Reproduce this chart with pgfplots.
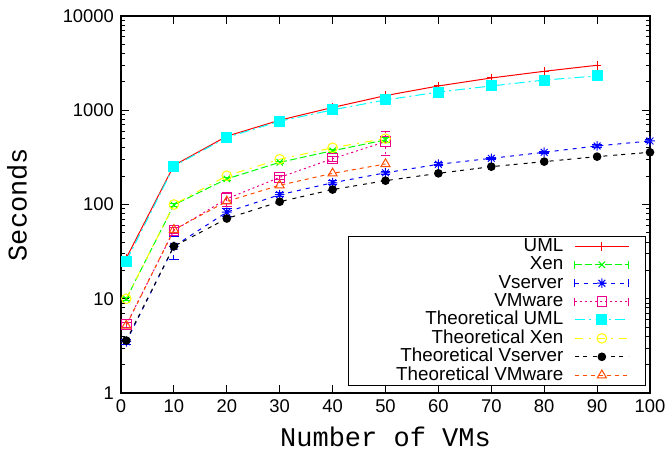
\documentclass[border=0pt]{standalone}
\usepackage{fontspec}
\setmainfont{Liberation Sans}
\newfontfamily\courier{Liberation Mono}
\usepackage{pgfplots}
\pgfplotsset{compat=1.18}

\definecolor{gpgreen}{rgb}{0,1,0}
\definecolor{gpcyan}{rgb}{0,1,1}
\definecolor{gpyellow}{rgb}{1,1,0}
\definecolor{gporange}{rgb}{1,0.3,0}

% gnuplot style 8-arm asterisk
\pgfdeclareplotmark{gpstar}{%
  \pgfpathmoveto{\pgfqpoint{-\pgfplotmarksize}{0pt}}\pgfpathlineto{\pgfqpoint{\pgfplotmarksize}{0pt}}%
  \pgfpathmoveto{\pgfqpoint{0pt}{-\pgfplotmarksize}}\pgfpathlineto{\pgfqpoint{0pt}{\pgfplotmarksize}}%
  \pgfpathmoveto{\pgfqpoint{-.707\pgfplotmarksize}{-.707\pgfplotmarksize}}\pgfpathlineto{\pgfqpoint{.707\pgfplotmarksize}{.707\pgfplotmarksize}}%
  \pgfpathmoveto{\pgfqpoint{-.707\pgfplotmarksize}{.707\pgfplotmarksize}}\pgfpathlineto{\pgfqpoint{.707\pgfplotmarksize}{-.707\pgfplotmarksize}}%
  \pgfusepathqstroke}

\newcommand{\legtxt}[1]{\makebox[106pt][r]{#1}}

\pgfplotsset{
  plainleg/.style={legend image code/.code={%
    \draw[mark repeat=2,mark phase=2] plot coordinates {(0pt,0pt)(13.5pt,0pt)(27pt,0pt)};
    \path (34pt,0pt);}},
  errleg/.style={legend image code/.code={%
    \draw[mark repeat=2,mark phase=2] plot coordinates {(0pt,0pt)(13.5pt,0pt)(27pt,0pt)};
    \draw[solid] (0pt,-2pt)--(0pt,2pt) (27pt,-2pt)--(27pt,2pt);
    \path (34pt,0pt);}},
}

\begin{document}
\begin{tikzpicture}
\useasboundingbox (-60.5pt,-29.5pt) rectangle (275pt,196.5pt);
\begin{axis}[
    at={(0pt,0pt)}, anchor=south west,
    scale only axis,
    width=264.5pt, height=188.5pt,
    ymode=log,
    xmin=0, xmax=100, ymin=1, ymax=10000,
    xtick={0,10,...,100},
    ytick={1,10,100,1000,10000},
    yticklabels={1,10,100,1000,10000},
    tick align=inside,
    major tick length=4pt, minor tick length=2pt,
    axis line style={line width=0.8pt},
    every tick/.style={black, line width=0.5pt},
    tick label style={font=\fontsize{9.2}{9.2}\selectfont},
    /pgf/number format/assume math mode=true,
    xlabel={Number of VMs},
    ylabel={Seconds},
    every axis x label/.style={at={(axis description cs:0.5,0)}, yshift=-22pt, anchor=center, font=\courier\fontsize{13.5}{13.5}\selectfont},
    every axis y label/.style={at={(axis description cs:0,0.5)}, xshift=-52pt, rotate=90, anchor=center, font=\courier\fontsize{13.5}{13.5}\selectfont},
    legend plot pos=right,
    legend cell align=right,
    legend style={at={(0.9924,0.0186)}, anchor=south east, draw=black, line width=0.6pt,
      font=\fontsize{9.4}{9.4}\selectfont, inner xsep=1pt, inner ysep=0.5pt,
      row sep=0pt, column sep=5pt,
      nodes={inner sep=0.5pt, text height=6.6pt, text depth=1.6pt}},
    every axis plot/.append style={line width=0.5pt},
]
% UML
\addplot[red, solid, mark=+, mark size=2.2pt, mark options={solid}, plainleg]
  coordinates {(1,27)(10,260)(20,530)(30,785)(40,1070)(50,1430)(60,1810)(70,2200)(80,2590)(90,3000)};
% Xen
\addplot[gpgreen, dash pattern=on 3.5pt off 1.5pt, mark=x, mark size=2.2pt, mark options={solid}, errleg,
  error bars/.cd, y dir=both, y explicit, error bar style={gpgreen, line width=0.5pt}]
  coordinates {(1,10)+-(0,0.3)(10,99)+-(0,3)(20,187)+-(0,6)(30,280)+-(0,10)(40,372)+-(0,15)(50,484)+-(0,25)};
% Vserver
\addplot[blue, dash pattern=on 2pt off 2.5pt, mark=gpstar, mark size=2.4pt, mark options={solid}, errleg,
  error bars/.cd, y dir=both, y explicit, error bar style={blue, line width=0.5pt}]
  coordinates {(1,3.5)+-(0,0.2)(10,36)+-(0,10)(20,83)+-(0,8)(30,127)+-(0,6)(40,170)+-(0,8)(50,217)+-(0,10)
               (60,267)+-(0,10)(70,309)+-(0,10)(80,358)+-(0,10)(90,418)+-(0,12)(100,472)+-(0,15)};
% VMware
\addplot[magenta, dash pattern=on 1pt off 1.5pt, mark=square, mark size=2.4pt, mark options={solid}, errleg,
  error bars/.cd, y dir=both, y explicit, error bar style={magenta, line width=0.5pt, dash pattern=on 1pt off 1.5pt}]
  coordinates {(1,5.3)+-(0,0.3)(10,53)+-(0,4)(20,115)+-(0,20)(30,194)+-(0,10)(40,306)+-(0,20)(50,464)+-(0,130)};
% Theoretical UML
\addplot[gpcyan, dash pattern=on 5pt off 2pt on 1pt off 2pt, mark=square*, mark size=2.5pt, mark options={solid}, plainleg]
  coordinates {(1,25)(10,255)(20,515)(30,765)(40,1010)(50,1285)(60,1560)(70,1810)(80,2090)(90,2310)};
% Theoretical Xen
\addplot[gpyellow, dash pattern=on 4pt off 3pt on 1pt off 3pt, mark=o, mark size=2.4pt, mark options={solid}, plainleg]
  coordinates {(1,10)(10,100)(20,202)(30,302)(40,400)(50,500)};
% Theoretical Vserver
\addplot[black, dash pattern=on 2pt off 2pt on 2pt off 3pt, mark=*, mark size=1.9pt, mark options={solid}, plainleg]
  coordinates {(1,3.6)(10,36)(20,71)(30,107)(40,144)(50,179)(60,214)(70,252)(80,285)(90,322)(100,358)};
% Theoretical VMware
\addplot[gporange, dash pattern=on 2pt off 2pt, mark=triangle, mark size=2.6pt, mark options={solid}, plainleg]
  coordinates {(1,5.2)(10,54)(20,108)(30,160)(40,214)(50,269)};
\legend{\legtxt{UML},\legtxt{Xen},\legtxt{Vserver},\legtxt{VMware},\legtxt{Theoretical UML},\legtxt{Theoretical Xen},\legtxt{Theoretical Vserver},\legtxt{Theoretical VMware}}
\end{axis}
\end{tikzpicture}
\end{document}
